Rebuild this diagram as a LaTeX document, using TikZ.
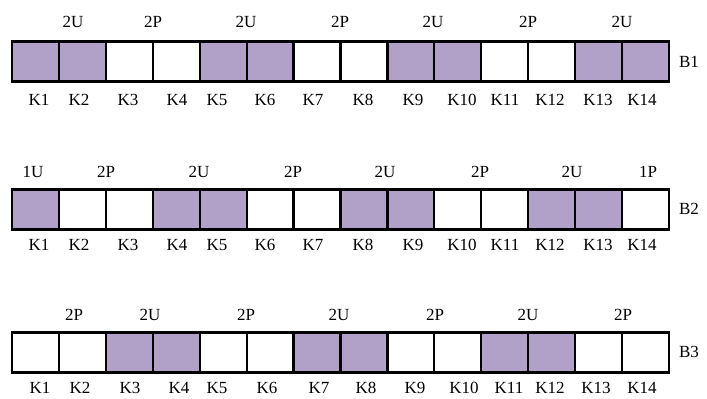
\documentclass[tikz,border=0pt]{standalone}
\usepackage{fontspec}
\setmainfont{Liberation Serif}
\definecolor{slotfill}{HTML}{B1A0C7}
\begin{document}
\begin{tikzpicture}[x=1pt,y=-1pt,
  cell/.style={draw=black, line width=2.2pt, fill=white,
    minimum width=46.93pt, minimum height=40pt,
    inner sep=0pt, outer sep=0pt, anchor=north west},
  used/.style={cell, fill=slotfill},
  lbl/.style={font=\fontsize{17}{20}\selectfont, inner sep=0pt}]
\useasboundingbox (0,0) rectangle (707,399);

% ---- row B1 ----
\foreach \i/\st in {1/used,2/used,3/cell,4/cell,5/used,6/used,7/cell,8/cell,
                    9/used,10/used,11/cell,12/cell,13/used,14/used}
  \node[\st] (ra\i) at ({12+(\i-1)*46.93},41.5) {};
\foreach \x/\t [count=\n] in {73/2U,153/2P,246/2U,340/2P,433/2U,528/2P,622/2U}
  \node[lbl] (ta\n) at (\x,22) {\t};
\foreach \x [count=\n] in {39,79,128,177,217,265,313,363,413,462,505,550,598,642}
  \node[lbl] (ka\n) at (\x,100) {K\n};
\node[lbl] (ba) at (689,62) {B1};

% ---- row B2 ----
\foreach \i/\st in {1/used,2/cell,3/cell,4/used,5/used,6/cell,7/cell,8/used,
                    9/used,10/cell,11/cell,12/used,13/used,14/cell}
  \node[\st] (rb\i) at ({12+(\i-1)*46.93},189.5) {};
\foreach \x/\t [count=\n] in {33/1U,106/2P,199/2U,293/2P,385/2U,480/2P,572/2U,648/1P}
  \node[lbl] (tb\n) at (\x,172) {\t};
\foreach \x [count=\n] in {39,79,128,177,217,265,313,363,413,462,505,550,598,642}
  \node[lbl] (kb\n) at (\x,245) {K\n};
\node[lbl] (bb) at (689,209) {B2};

% ---- row B3 ----
\foreach \i/\st in {1/cell,2/cell,3/used,4/used,5/cell,6/cell,7/used,8/used,
                    9/cell,10/cell,11/used,12/used,13/cell,14/cell}
  \node[\st] (rc\i) at ({12+(\i-1)*46.93},332.5) {};
\foreach \x/\t [count=\n] in {74/2P,150/2U,246/2P,339/2U,435/2P,528/2U,623/2P}
  \node[lbl] (tc\n) at (\x,315) {\t};
\foreach \x [count=\n] in {40,80,130,179,217,267,319,366,415,464,509,550,596,642}
  \node[lbl] (kc\n) at (\x,388) {K\n};
\node[lbl] (bc) at (689,352) {B3};
\end{tikzpicture}
\end{document}
